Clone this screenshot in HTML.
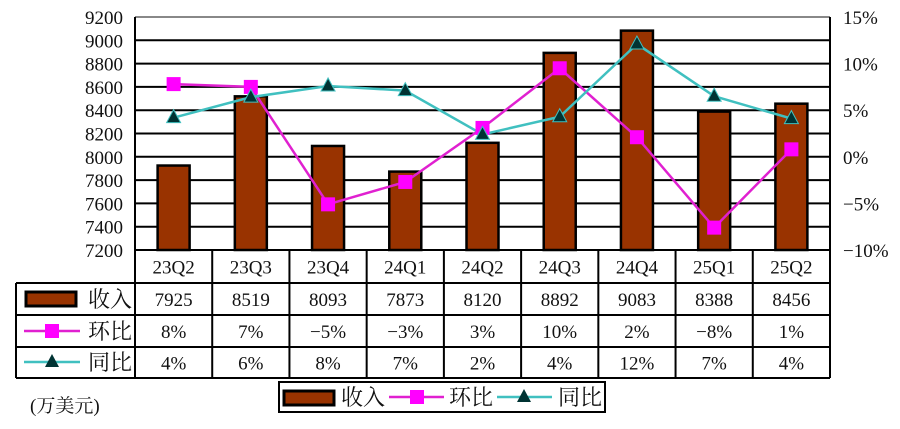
<!DOCTYPE html>
<html><head><meta charset="utf-8"><style>
body{margin:0;background:#fff;width:900px;height:424px;overflow:hidden}
svg text{font-family:"Liberation Serif","Noto Serif CJK SC",serif;fill:#111}
</style></head><body>
<svg id="c" width="900" height="424" xmlns="http://www.w3.org/2000/svg"></svg>
<script>
const categories=["23Q2","23Q3","23Q4","24Q1","24Q2","24Q3","24Q4","25Q1","25Q2"];
const revenue=[7925,8519,8093,7873,8120,8892,9083,8388,8456];
const qoq=[7.8,7.5,-5.1,-2.7,3.1,9.5,2.1,-7.6,0.8];
const yoy=[4.2,6.4,7.6,7.1,2.4,4.3,12.1,6.5,4.1];
const qoqLabels=["8%","7%","\u22125%","\u22123%","3%","10%","2%","\u22128%","1%"];
const yoyLabels=["4%","6%","8%","7%","2%","4%","12%","7%","4%"];
const leftTicks=[7200,7400,7600,7800,8000,8200,8400,8600,8800,9000,9200];
const rightTicks=[-10,-5,0,5,10,15];
const rightTickLabels=["\u221210%","\u22125%","0%","5%","10%","15%"];

const svg=document.getElementById('c');const NS="http://www.w3.org/2000/svg";
function mk(t,a,p){const e=document.createElementNS(NS,t);for(const k in a)e.setAttribute(k,a[k]);(p||svg).appendChild(e);return e;}
const L=135,R=830,T=17,B=250;
const n=categories.length,cw=(R-L)/n;
const xc=i=>L+cw*(i+0.5);
const yL=v=>B-(v-7200)/(9200-7200)*(B-T);
const yR=v=>B-(v+10)/25*(B-T);

leftTicks.forEach(v=>{
 const g=mk('line',{x1:L,x2:R,y1:yL(v),y2:yL(v),stroke:v===9200?'#888':'#000','stroke-width':2});
 
 const t=mk('text',{x:L-12,y:yL(v)+7,'text-anchor':'end','font-size':19});t.textContent=v;
 
});
rightTicks.forEach((v,i)=>{
 const t=mk('text',{x:843,y:yR(v)+7,'font-size':19});t.textContent=rightTickLabels[i];
 
});
mk('line',{x1:L,x2:L,y1:T,y2:B,stroke:'#000','stroke-width':2});
mk('line',{x1:R,x2:R,y1:T,y2:B,stroke:'#000','stroke-width':2});

revenue.forEach((v,i)=>{
 const b=mk('rect',{x:xc(i)-16,y:yL(v),width:32,height:B-yL(v),fill:'#993300',stroke:'#000','stroke-width':2.5});
 
});
function line(vals,col){
 const p=mk('polyline',{points:vals.map((v,i)=>xc(i)+','+yR(v)).join(' '),fill:'none',stroke:col,'stroke-width':2.5});
 return p;
}
const lq=line(qoq,'#e020d0');
const ly=line(yoy,'#40c0c0');
qoq.forEach((v,i)=>{const m=mk('rect',{x:xc(i)-7,y:yR(v)-7,width:14,height:14,fill:'#ff00ff'});
 });
yoy.forEach((v,i)=>{const x=xc(i),y=yR(v);const m=mk('polygon',{points:`${x},${y-8} ${x-7},${y+5} ${x+7},${y+5}`,fill:'#003333',stroke:'#40c0c0','stroke-width':1});
 });

// table
const rows=[250,283,315,347,378];
mk('line',{x1:16,x2:R,y1:283,y2:283,stroke:'#000','stroke-width':2});
mk('line',{x1:16,x2:R,y1:315,y2:315,stroke:'#000','stroke-width':2});
mk('line',{x1:16,x2:R,y1:347,y2:347,stroke:'#000','stroke-width':2});
mk('line',{x1:16,x2:R,y1:378,y2:378,stroke:'#000','stroke-width':2});
mk('line',{x1:16,x2:16,y1:283,y2:378,stroke:'#000','stroke-width':2});
for(let i=0;i<=n;i++)mk('line',{x1:L+cw*i,x2:L+cw*i,y1:B,y2:378,stroke:'#000','stroke-width':2});
const rowData=[categories,revenue,qoqLabels,yoyLabels];
rowData.forEach((arr,r)=>arr.forEach((s,i)=>{
 const t=mk('text',{x:xc(i),y:(rows[r]+rows[r+1])/2+7,'text-anchor':'middle','font-size':19});t.textContent=s;
 
}));
mk('rect',{x:26,y:292,width:50,height:14,fill:'#993300',stroke:'#000','stroke-width':3});
mk('line',{x1:24,x2:80,y1:331,y2:331,stroke:'#e020d0','stroke-width':2.5});
mk('rect',{x:45,y:324,width:14,height:14,fill:'#ff00ff'});
mk('line',{x1:24,x2:80,y1:362,y2:362,stroke:'#40c0c0','stroke-width':2.5});
mk('polygon',{points:'52,354 45,367 59,367',fill:'#003333'});
[['收入',299],['环比',331],['同比',362]].forEach(([s,y])=>{const t=mk('text',{x:88,y:y+8,'font-size':22,'font-family':'"Noto Sans CJK SC",sans-serif'});t.textContent=s;
 });

// legend
const lg=mk('g',{});
mk('rect',{x:279,y:382,width:326,height:30,fill:'#fff',stroke:'#000','stroke-width':2},lg);
mk('rect',{x:284,y:391,width:50,height:14,fill:'#993300',stroke:'#000','stroke-width':3},lg);
let t=mk('text',{x:341,y:405,'font-size':22},lg);t.textContent='收入';
mk('line',{x1:389,x2:444,y1:397,y2:397,stroke:'#e020d0','stroke-width':2.5},lg);
mk('rect',{x:410,y:390,width:14,height:14,fill:'#ff00ff'},lg);
t=mk('text',{x:449,y:405,'font-size':22},lg);t.textContent='环比';
mk('line',{x1:497,x2:552,y1:397,y2:397,stroke:'#40c0c0','stroke-width':2.5},lg);
mk('polygon',{points:'524,389 517,402 531,402',fill:'#003333'},lg);
t=mk('text',{x:558,y:405,'font-size':22},lg);t.textContent='同比';
t=mk('text',{x:30,y:412,'font-size':19,'font-family':'"Noto Sans CJK SC",sans-serif'});t.textContent='(万美元)';

</script>
</body></html>
